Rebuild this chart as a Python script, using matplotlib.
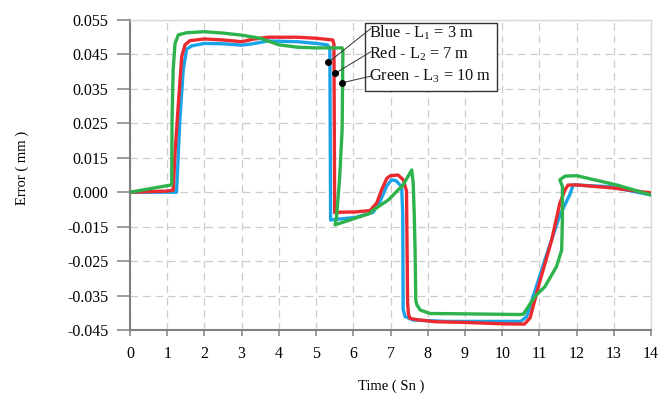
import numpy as np
import matplotlib
matplotlib.use("Agg")
import matplotlib.pyplot as plt
from matplotlib.scale import FuncScale

plt.rcParams['font.family'] = ['Liberation Serif', 'DejaVu Serif']
plt.rcParams['mathtext.fontset'] = 'custom'
plt.rcParams['mathtext.rm'] = 'Liberation Serif'
plt.rcParams['mathtext.it'] = 'Liberation Serif:italic'

# ---------------- data ----------------
blue_t = [0, 1.23, 1.25, 1.34, 1.43, 1.52, 1.66, 2.0, 2.5, 3.0, 3.3, 3.7, 4.5, 5.0, 5.30, 5.37,
          5.39, 5.55, 6.05, 6.53, 6.72, 6.9, 7.03, 7.15, 7.3, 7.33, 7.34, 7.39, 7.61, 8.5, 10.5,
          10.66, 11.15, 11.55, 11.82, 11.91, 12.9, 14.0]
blue_v = [0.0, 0.0, 0.0, 0.026, 0.0405, 0.0465, 0.0475, 0.0482, 0.0481, 0.0477, 0.0481, 0.0489,
          0.0487, 0.0482, 0.0478, 0.0470, -0.0121, -0.0118, -0.0110, -0.0088, -0.0040, 0.0028,
          0.0054, 0.0050, 0.0024, -0.010, -0.039, -0.0411, -0.0421, -0.0425, -0.0425,
          -0.0411, -0.0246, -0.0100, -0.0010, 0.0032, 0.0024, -0.0012]

red_t = [0, 1.0, 1.16, 1.21, 1.30, 1.39, 1.48, 1.61, 2.0, 2.5, 3.0, 3.3, 3.7, 4.5, 5.0, 5.45,
         5.48, 5.50, 5.64, 6.05, 6.45, 6.63, 6.76, 6.9, 7.0, 7.2, 7.34, 7.43, 7.46, 7.48, 7.52,
         7.7, 8.2, 9.0, 10.0, 10.6, 10.75, 11.0, 11.33, 11.55, 11.69, 11.77, 12.0, 13.0, 14.0]
red_v = [0.0, 0.0005, 0.0009, 0.0163, 0.0308, 0.0444, 0.0478, 0.0490, 0.0495, 0.0492, 0.0487,
         0.0494, 0.0500, 0.0500, 0.0497, 0.0492, 0.0480, -0.0089, -0.0087, -0.0086, -0.0080,
         -0.0047, 0.0010, 0.0060, 0.0072, 0.0075, 0.0055, 0.0006, -0.0372, -0.0402, -0.0416,
         -0.0420, -0.0426, -0.0428, -0.0432, -0.0433, -0.0415, -0.0314, -0.0189, -0.0048,
         0.0010, 0.0031, 0.0032, 0.0018, -0.0003]

green_t = [0, 1.12, 1.13, 1.16, 1.21, 1.30, 1.52, 2.0, 2.5, 3.0, 3.5, 4.0, 4.5, 5.0, 5.70,
           5.72, 5.70, 5.63, 5.55, 5.51, 6.45, 6.53, 6.94, 7.34, 7.57, 7.61, 7.64, 7.66, 7.68,
           7.71, 7.8, 8.06, 10.48, 10.57, 10.88, 11.15, 11.46, 11.60, 11.62, 11.62, 11.55,
           11.69, 12.0, 13.07, 14.0]
green_v = [0.0, 0.0032, 0.026, 0.0405, 0.0482, 0.0507, 0.0513, 0.0516, 0.0512, 0.0506, 0.0497,
           0.0478, 0.0471, 0.0469, 0.0469, 0.0460, 0.0231, 0.0054, -0.0107, -0.0142, -0.0092,
           -0.0078, -0.0034, 0.0032, 0.0097, 0.0039, -0.0107, -0.0218, -0.0365, -0.0377,
           -0.0392, -0.0402, -0.0405, -0.0404, -0.0353, -0.0324, -0.0266, -0.0218, -0.0107,
           0.0024, 0.0054, 0.0070, 0.0072, 0.0032, -0.0012]

x_ticks = list(range(0, 15))
y_ticks = [-0.045, -0.035, -0.025, -0.015, 0.0, 0.015, 0.025, 0.035, 0.045, 0.055]
y_tick_labels = ["-0.045", "-0.035", "-0.025", "-0.015", "0.000", "0.015", "0.025",
                 "0.035", "0.045", "0.055"]

legend_labels = ["Blue - L$_{1}$ = 3 m", "Red - L$_{2}$ = 7 m", "Green - L$_{3}$ = 10 m"]
marker_t = [5.33, 5.51, 5.71]
marker_v = [0.0427, 0.0395, 0.0368]

# --------------- scale (tick labels are evenly spaced) ---------------
_L = np.array(y_ticks)
_P = np.arange(len(y_ticks), dtype=float)


def _fwd(y):
    y = np.asarray(y, dtype=float)
    out = np.interp(y, _L, _P)
    lo = y < _L[0]
    hi = y > _L[-1]
    out = np.where(lo, _P[0] + (y - _L[0]) / (_L[1] - _L[0]), out)
    out = np.where(hi, _P[-1] + (y - _L[-1]) / (_L[-1] - _L[-2]), out)
    return out


def _inv(p):
    p = np.asarray(p, dtype=float)
    out = np.interp(p, _P, _L)
    lo = p < _P[0]
    hi = p > _P[-1]
    out = np.where(lo, _L[0] + (p - _P[0]) * (_L[1] - _L[0]), out)
    out = np.where(hi, _L[-1] + (p - _P[-1]) * (_L[-1] - _L[-2]), out)
    return out


fig = plt.figure(figsize=(6.68, 3.94), dpi=100)
ax = fig.add_axes([130 / 668, 64 / 394, 521 / 668, 310 / 394])
ax.set_yscale(FuncScale(ax, (_fwd, _inv)))

c_blue = '#1aa3e8'
c_red = '#ea2a2f'
c_green = '#2eb24c'
lw = 2.4
ax.plot(blue_t, blue_v, color=c_blue, lw=lw, solid_joinstyle='round', zorder=3)
ax.plot(red_t, red_v, color=c_red, lw=lw, solid_joinstyle='round', zorder=3)
ax.plot(green_t, green_v, color=c_green, lw=lw, solid_joinstyle='round', zorder=3)

ax.set_xlim(0, 14)
ax.set_ylim(-0.045, 0.055)
ax.set_xticks(x_ticks)
ax.set_xticklabels([str(v) for v in x_ticks])
ax.set_yticks(y_ticks)
ax.set_yticklabels(y_tick_labels)

ax.grid(True, color='#cccccc', linestyle=(0, (6, 4)), linewidth=0.9, zorder=0)
for s in ['top', 'right']:
    ax.spines[s].set_color('#d8d8d8')
    ax.spines[s].set_linewidth(1.0)
for s in ['left', 'bottom']:
    ax.spines[s].set_color('#808080')
    ax.spines[s].set_linewidth(1.5)

ax.tick_params(axis='y', direction='out', length=9.4, width=1.1, color='#808080',
               pad=6, labelsize=11.5)
ax.tick_params(axis='x', direction='out', length=4.5, width=1.1, color='#808080',
               pad=7, labelsize=11.5)

# annotation box
box = plt.Rectangle((0.451, 0.771), 0.253, 0.219, transform=ax.transAxes,
                    facecolor='white', edgecolor='#333333', linewidth=1.0, zorder=5)
ax.add_patch(box)
text_y = [0.958, 0.890, 0.819]
start_y = [0.973, 0.898, 0.819]
for lab, ty, sy, mt, mv in zip(legend_labels, text_y, start_y, marker_t, marker_v):
    ax.text(0.459, ty, lab, transform=ax.transAxes, fontsize=11.8, va='center', ha='left',
            zorder=6, color='#111111')
    ax.annotate('', xy=(mt, mv), xycoords='data', xytext=(0.4626, sy),
                textcoords='axes fraction',
                arrowprops=dict(arrowstyle='-', color='#333333', lw=0.7,
                                shrinkA=0, shrinkB=0), zorder=6)
ax.plot(marker_t, marker_v, 'o', color='black', markersize=4, zorder=7)

fig.text(391 / 668, 8 / 394, "Time ( Sn )", ha='center', va='center', fontsize=10.5)
fig.text(22 / 668, (394 - 168) / 394, "Error ( mm )", ha='center', va='center',
         rotation=90, fontsize=10.5)

fig.savefig("out.png", dpi=100, facecolor='white')
